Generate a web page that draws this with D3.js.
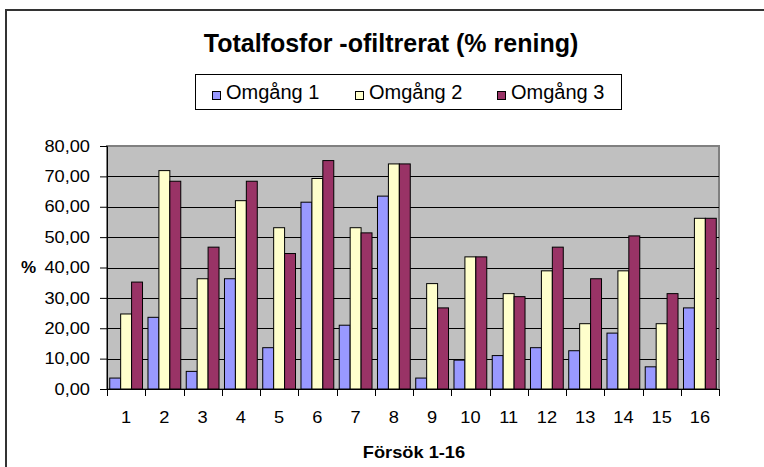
<!DOCTYPE html>
<html>
<head>
<meta charset="utf-8">
<script src="https://cdn.jsdelivr.net/npm/d3@7"></script>
<style>
  html, body { margin: 0; padding: 0; background: #fff; }
  svg { display: block; font-family: "Liberation Sans", Arial, sans-serif; }
</style>
</head>
<body>
<svg id="chart" width="764" height="467"></svg>
<script>
// Försök 1–16, rening (%) per omgång
const categories = ["1","2","3","4","5","6","7","8","9","10","11","12","13","14","15","16"];
const seriesNames = ["Omgång 1", "Omgång 2", "Omgång 3"];
const omgang1 = [3.6, 23.6, 5.8, 36.3, 13.6, 61.5, 21.0, 63.5, 3.6, 9.5, 11.0, 13.6, 12.6, 18.4, 7.3, 26.7];
const omgang2 = [24.7, 71.9, 36.3, 62.0, 53.1, 69.3, 53.1, 74.1, 34.7, 43.5, 31.4, 38.9, 21.5, 38.9, 21.5, 56.2];
const omgang3 = [35.2, 68.4, 46.7, 68.4, 44.6, 75.2, 51.4, 74.1, 26.7, 43.5, 30.4, 46.7, 36.3, 50.4, 31.4, 56.2];
const yTicks = [0, 10, 20, 30, 40, 50, 60, 70, 80];
const colors = ["#9999FF", "#FFFFCC", "#993366"];

const series = [omgang1, omgang2, omgang3];
const svg = d3.select("#chart");
const AXIS_FONT = 16;
const STRETCH = 1.14;   // axis lettering is drawn slightly wide

// Chart frame (runs past the right and bottom edges)
svg.append("path")
  .attr("d", "M6,470 L6,10 L770,10")
  .attr("fill", "none").attr("stroke", "#333").attr("stroke-width", 2);

const plot = { left: 107, top: 146, right: 719, bottom: 389 };

const x = d3.scaleBand().domain(categories).range([plot.left, plot.right]);
const inner = d3.scaleBand().domain(d3.range(3)).range([0, x.bandwidth()])
  .paddingInner(0).paddingOuter(0.25);
const y = d3.scaleLinear().domain([0, 80]).range([plot.bottom, plot.top]);

// Plot area
svg.append("rect")
  .attr("x", plot.left).attr("y", plot.top)
  .attr("width", plot.right - plot.left).attr("height", plot.bottom - plot.top)
  .attr("fill", "#C0C0C0").attr("stroke", "#808080").attr("stroke-width", 2);

// Gridlines
svg.append("g").selectAll("line").data(yTicks.filter(d => d > 0 && d < 80)).join("line")
  .attr("x1", plot.left).attr("x2", plot.right)
  .attr("y1", d => Math.round(y(d)) + 0.5).attr("y2", d => Math.round(y(d)) + 0.5)
  .attr("stroke", "#000").attr("stroke-width", 1);

// Bars
const groups = svg.append("g").selectAll("g").data(categories).join("g")
  .attr("transform", d => `translate(${x(d)},0)`);
groups.selectAll("rect")
  .data((d, i) => series.map((s, k) => ({ k, v: s[i] })))
  .join("rect")
  .attr("x", d => inner(d.k))
  .attr("width", inner.bandwidth())
  .attr("y", d => y(d.v))
  .attr("height", d => y(0) - y(d.v))
  .attr("fill", d => colors[d.k])
  .attr("stroke", "#000").attr("stroke-width", 1);

// Y axis
const yAxis = svg.append("g").attr("transform", `translate(${plot.left},0)`)
  .call(d3.axisLeft(y).tickValues(yTicks).tickSize(7).tickPadding(10)
    .tickFormat(d => d3.format(".2f")(d).replace(".", ",")));
yAxis.select(".domain").attr("stroke", "#000");
yAxis.selectAll(".tick line").attr("stroke", "#000");
yAxis.selectAll(".tick text")
  .attr("x", 0)
  .attr("transform", `translate(-17,0) scale(${STRETCH},1)`)
  .attr("font-size", AXIS_FONT).attr("fill", "#000")
  .attr("font-family", "Liberation Sans, Arial, sans-serif");

// X axis with ticks at category boundaries
const xAxisG = svg.append("g").attr("transform", `translate(0,${plot.bottom})`);
xAxisG.append("line").attr("x1", plot.left).attr("x2", plot.right)
  .attr("y1", 0.5).attr("y2", 0.5).attr("stroke", "#000");
xAxisG.selectAll("line.b").data(d3.range(categories.length + 1)).join("line")
  .attr("class", "b")
  .attr("x1", i => Math.round(plot.left + i * x.step()) + 0.5)
  .attr("x2", i => Math.round(plot.left + i * x.step()) + 0.5)
  .attr("y1", 0).attr("y2", 7).attr("stroke", "#000");
xAxisG.selectAll("text").data(categories).join("text")
  .attr("transform", d => `translate(${x(d) + x.bandwidth() / 2},34) scale(${STRETCH},1)`)
  .attr("text-anchor", "middle").attr("font-size", AXIS_FONT).text(d => d);

// Axis titles
svg.append("text").attr("transform", `translate(414,458) scale(${STRETCH},1)`)
  .attr("text-anchor", "middle")
  .attr("font-size", AXIS_FONT).attr("font-weight", "bold").text("Försök 1-16");
svg.append("text").attr("x", 21).attr("y", 273)
  .attr("font-size", 17).attr("font-weight", "bold").text("%");

// Title
svg.append("text").attr("x", 391).attr("y", 52).attr("text-anchor", "middle")
  .attr("font-size", 25).attr("font-weight", "bold").text("Totalfosfor -ofiltrerat (% rening)");

// Legend
const legend = svg.append("g");
legend.append("rect").attr("x", 195.5).attr("y", 74.5).attr("width", 426).attr("height", 35)
  .attr("fill", "#fff").attr("stroke", "#000");
const legendX = [212, 355, 497];
seriesNames.forEach((name, k) => {
  legend.append("rect").attr("x", legendX[k] + 0.5).attr("y", 91.5).attr("width", 8).attr("height", 8)
    .attr("fill", colors[k]).attr("stroke", "#000");
  legend.append("text").attr("x", legendX[k] + 14).attr("y", 99)
    .attr("font-size", 20).text(name);
});
</script>
</body>
</html>
